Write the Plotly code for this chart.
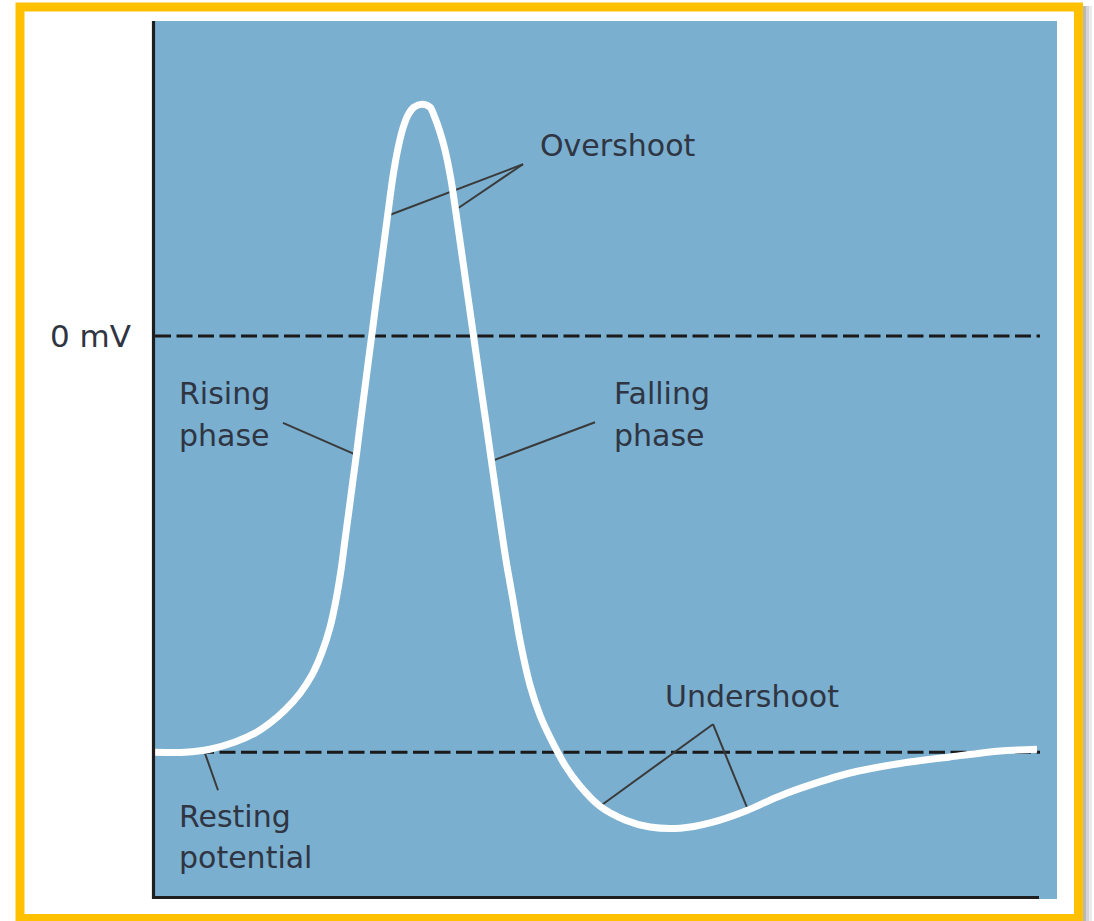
import plotly.graph_objects as go

# ---- data (time in ms, membrane potential in mV) ----
time_ms = [0.02, 0.32, 0.57, 0.82, 1.02, 1.17, 1.32, 1.47, 1.59, 1.69, 1.77, 1.83,
           1.88, 1.92, 1.96, 2.00, 2.04, 2.08, 2.12, 2.16, 2.20, 2.24, 2.28, 2.32,
           2.36, 2.40, 2.45, 2.50, 2.55, 2.61, 2.69, 2.77, 2.82, 2.87, 2.92, 2.98,
           3.03, 3.08, 3.13, 3.18, 3.23, 3.28, 3.33, 3.38, 3.43, 3.48, 3.53, 3.60,
           3.67, 3.77, 3.87, 3.97, 4.12, 4.27, 4.47, 4.72, 4.97, 5.27, 5.57, 5.94,
           6.22, 6.47, 6.97, 7.47, 7.97, 8.47, 8.84]
voltage_mv = [-70.0, -70.0, -69.5, -68.3, -66.8, -65.1, -62.9, -60.1, -57.0, -53.2, -49.0, -44.4,
              -39.4, -34.3, -29.3, -24.2, -19.2, -13.8, -8.6, -3.4, 1.7, 6.9, 11.9, 17.0,
              22.0, 26.9, 31.6, 35.0, 37.2, 38.5, 39.0, 38.5, 36.7, 34.3, 31.3, 26.3,
              20.7, 14.8, 8.9, 3.0, -2.9, -8.8, -14.6, -20.5, -26.4, -32.1, -37.7, -44.4,
              -51.2, -58.7, -63.8, -67.5, -72.2, -75.7, -79.1, -81.4, -82.6, -82.8, -81.9, -79.8,
              -77.7, -76.1, -73.5, -71.9, -70.8, -69.8, -69.5]

zero_mv = 0
resting_mv = -70
y_tick_values = [zero_mv]
y_tick_labels = ["0 mV"]

FONT = "DejaVu Sans"
TXT = "#2f3542"
BLUE = "#7AAFD0"
YELLOW = "#FFC000"

W, H = 1094, 921
L, R, T, B = 153, 37, 21, 22
PW, PH = W - L - R, H - T - B


def pxx(px):
    return (px - L) / PW


def pxy(py):
    return (H - B - py) / PH


fig = go.Figure()
fig.add_trace(go.Scatter(
    x=time_ms, y=voltage_mv, mode="lines",
    line=dict(color="white", width=7, shape="spline", smoothing=0.8),
    hoverinfo="skip", showlegend=False,
))

shapes = []
# dashed reference lines
for lvl in (zero_mv, resting_mv):
    shapes.append(dict(type="line", xref="paper", yref="y", x0=pxx(155), x1=pxx(1040),
                       y0=lvl, y1=lvl, layer="below",
                       line=dict(color="#1a1a1a", width=3, dash="16px,5.5px")))

# callout leader lines
callouts = [
    ((3.70, 28.9), (2.34, 20.2)),
    ((3.70, 28.9), (3.05, 21.5)),
    ((1.30, -14.6), (2.02, -19.9)),
    ((4.42, -14.5), (3.39, -21.0)),
    ((5.60, -65.3), (4.47, -79.1)),
    ((5.60, -65.3), (5.94, -79.3)),
    ((0.52, -70.2), (0.65, -76.4)),
]
for (x0, y0), (x1, y1) in callouts:
    shapes.append(dict(type="line", xref="x", yref="y", x0=x0, y0=y0, x1=x1, y1=y1,
                       layer="below", line=dict(color="#3a3a3a", width=2)))

# axis lines
shapes.append(dict(type="line", xref="paper", yref="paper", x0=pxx(153.5), x1=pxx(153.5),
                   y0=pxy(899), y1=pxy(21), line=dict(color="#1e1e1e", width=3.2)))
shapes.append(dict(type="line", xref="paper", yref="paper", x0=pxx(152), x1=pxx(1039),
                   y0=pxy(897.5), y1=pxy(897.5), line=dict(color="#1e1e1e", width=3.2)))

# outer yellow frame
shapes.append(dict(type="rect", xref="paper", yref="paper",
                   x0=pxx(20), x1=pxx(1078.5), y0=pxy(918.5), y1=pxy(7),
                   line=dict(color=YELLOW, width=9), fillcolor="rgba(0,0,0,0)"))
# soft shadow on the right of the frame
for x0, x1, a in [(1083, 1086, 0.28), (1086, 1089, 0.17), (1089, 1092, 0.08)]:
    shapes.append(dict(type="rect", xref="paper", yref="paper",
                       x0=pxx(x0), x1=pxx(x1), y0=pxy(921), y1=pxy(6),
                       line=dict(width=0), fillcolor=f"rgba(0,0,0,{a})"))

labels = [
    ("Overshoot", 3.85, 32.0),
    ("Rising", 0.24, -9.6),
    ("phase", 0.24, -16.8),
    ("Falling", 4.59, -9.6),
    ("phase", 4.59, -16.8),
    ("Undershoot", 5.10, -60.6),
    ("Resting", 0.24, -80.9),
    ("potential", 0.24, -87.7),
]
annotations = [dict(text=t, x=x, y=y, xref="x", yref="y", xanchor="left", yanchor="middle",
                    showarrow=False, font=dict(family=FONT, size=30, color=TXT))
               for t, x, y in labels]

fig.update_layout(
    width=W, height=H,
    margin=dict(l=L, r=R, t=T, b=B),
    paper_bgcolor="white", plot_bgcolor=BLUE,
    showlegend=False,
    shapes=shapes, annotations=annotations,
    xaxis=dict(range=[0, 9.04], showgrid=False, zeroline=False, showticklabels=False,
               ticks="", showline=False, fixedrange=True),
    yaxis=dict(range=[-94.7, 53.0], showgrid=False, zeroline=False, showline=False,
               tickvals=y_tick_values, ticktext=y_tick_labels, ticks="",
               ticklabelstandoff=21,
               tickfont=dict(family=FONT, size=31, color=TXT), fixedrange=True),
)

# remove the browser's default 8 px body margin so the figure sits at the page origin
fig.write_html("out.html",
               config={"displayModeBar": False, "staticPlot": True},
               post_script="document.body.style.margin='0';document.body.style.overflow='hidden';")
